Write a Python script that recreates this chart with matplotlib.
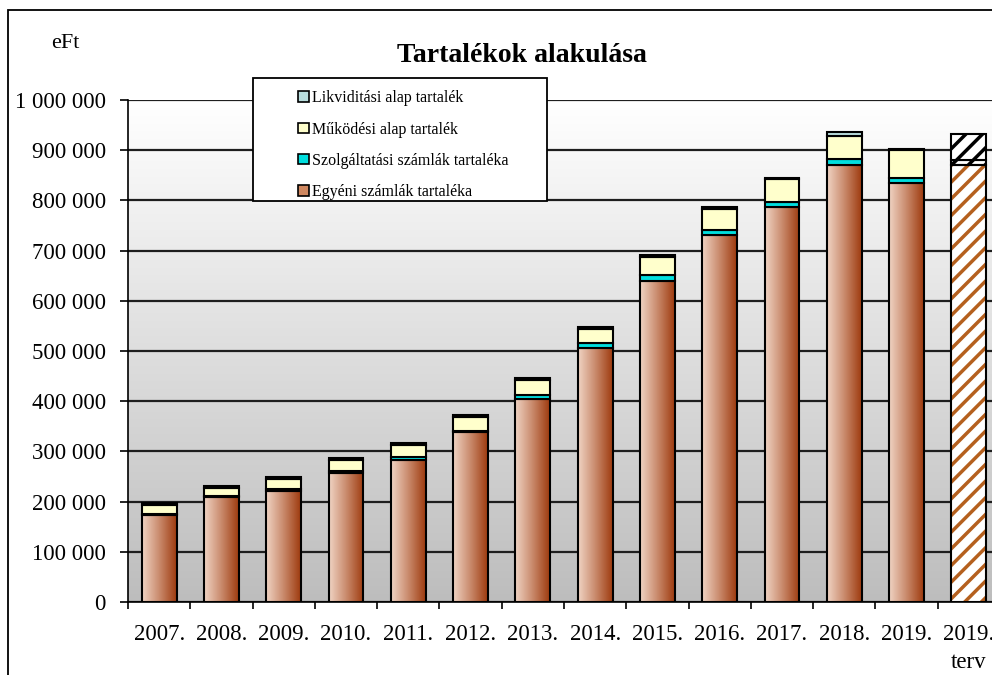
import numpy as np
import matplotlib
matplotlib.use("Agg")
import matplotlib.pyplot as plt
from matplotlib.colors import LinearSegmentedColormap
from matplotlib.patches import Rectangle, Patch
from matplotlib.ticker import FuncFormatter, FixedLocator

plt.rcParams["font.family"] = ["Liberation Serif", "DejaVu Serif"]
plt.rcParams["hatch.linewidth"] = 2.5

# Data (eFt, thousands)
years = ["2007.", "2008.", "2009.", "2010.", "2011.", "2012.", "2013.",
         "2014.", "2015.", "2016.", "2017.", "2018.", "2019.", "2019.\nterv"]
egyeni = [173, 209, 221, 256, 282, 338, 405, 506, 640, 732, 786, 870, 834, 870]
szolg = [2, 2, 4, 5, 6, 3, 7, 9, 11, 10, 11, 12, 11, 10]
mukodesi = [19, 16, 20, 22, 24, 27, 31, 29, 37, 41, 45, 47, 55, 48]
likvid = [4, 4, 4, 4, 4, 4, 4, 4, 4, 3, 3, 7, 3, 4]

labels = ["Likviditási alap tartalék", "Működési alap tartalék",
          "Szolgáltatási számlák tartaléka", "Egyéni számlák tartaléka"]

c_eg_light, c_eg_dark = "#f0d4c4", "#9e3a0e"
c_szolg = "#00dede"
c_muk = "#ffffcc"
c_likv = "#b8dcdc"

eg = np.array(egyeni) * 1000
sz = np.array(szolg) * 1000
mk = np.array(mukodesi) * 1000
lk = np.array(likvid) * 1000
x = np.arange(len(years))
n_real = len(years) - 1
w = 0.56

fig = plt.figure(figsize=(9.92, 6.75), dpi=100)
ax = fig.add_axes([128 / 992, 1 - 602 / 675, 872 / 992, 502 / 675])

# plot area background gradient
bg = np.linspace(1, 0, 256).reshape(-1, 1)
bg_cmap = LinearSegmentedColormap.from_list("bg", ["#bdbdbd", "#ffffff"])
ax.imshow(bg, cmap=bg_cmap, extent=(-0.5, len(years) - 0.5, 0, 1e6),
          aspect="auto", zorder=0, origin="upper", vmin=0, vmax=1)

edge = dict(edgecolor="black", linewidth=1.5)

# Egyéni számlák (gradient)
xr = x[:n_real]
bars_eg = ax.bar(xr, eg[:n_real], w, facecolor="none", zorder=3, **edge)
grad = np.linspace(0, 1, 256).reshape(1, -1)
eg_cmap = LinearSegmentedColormap.from_list("eg", [c_eg_light, "#c98a6c", c_eg_dark])
for r in bars_eg:
    ax.imshow(grad, cmap=eg_cmap, extent=(r.get_x(), r.get_x() + r.get_width(), 0, r.get_height()),
              aspect="auto", zorder=2)

b1 = eg[:n_real]
ax.bar(xr, sz[:n_real], w, bottom=b1, color=c_szolg, zorder=3, **edge)
b2 = b1 + sz[:n_real]
ax.bar(xr, mk[:n_real], w, bottom=b2, color=c_muk, zorder=3, **edge)
b3 = b2 + mk[:n_real]
ax.bar(xr, lk[:n_real], w, bottom=b3, color=c_likv, zorder=3, **edge)

# terv bar (hatched)
t = len(years) - 1
ax.bar(x[t], eg[t], w, facecolor="white", edgecolor="#b5601e", hatch="//", linewidth=0, zorder=3)
ax.bar(x[t], eg[t], w, facecolor="none", zorder=4, **edge)
tb = eg[t]
for val in (sz[t], mk[t] + lk[t]):
    ax.bar(x[t], val, w, bottom=tb, facecolor="white", edgecolor="black", hatch="//",
           linewidth=1.5, zorder=3)
    tb += val

ax.set_xlim(-0.5, len(years) - 0.5)
ax.set_ylim(0, 1e6)
ax.set_yticks(np.arange(0, 1000001, 100000))
ax.yaxis.set_major_formatter(FuncFormatter(lambda v, p: f"{int(v):,}".replace(",", " ")))
ax.set_xticks(x)
ax.set_xticklabels(years, fontsize=16.5, linespacing=1.4)
ax.xaxis.set_minor_locator(FixedLocator(np.arange(-0.5, len(years), 1)))
ax.tick_params(axis="x", which="major", length=0, pad=16)
ax.tick_params(axis="x", which="minor", length=5, width=1.2, direction="out")
ax.tick_params(axis="y", length=6, width=1.2, labelsize=16.5, pad=10)
ax.yaxis.grid(True, color="#1e1e1e", linewidth=1.6)
ax.set_axisbelow(True)
for s in ("top", "right"):
    ax.spines[s].set_visible(False)
for s in ("left", "bottom"):
    ax.spines[s].set_linewidth(1.2)

fig.text(522 / 992, 1 - 56 / 675, "Tartalékok alakulása", ha="center", va="center",
         fontsize=20, fontweight="bold")
fig.text(65 / 992, 1 - 43 / 675, "eFt", ha="center", va="center", fontsize=16)

# legend box
fig.patches.append(Rectangle((253 / 992, 1 - 201 / 675), 294 / 992, 123 / 675,
                             transform=fig.transFigure, facecolor="white",
                             edgecolor="black", linewidth=1.3, zorder=5))
handles = [Patch(facecolor=c, edgecolor="black", linewidth=1.2)
           for c in (c_likv, c_muk, c_szolg, "#d08860")]
leg = fig.legend(handles, labels, loc="upper left", bbox_to_anchor=(284 / 992, 1 - 76 / 675),
                 frameon=False, fontsize=11.5, handlelength=0.65, handleheight=0.65,
                 handletextpad=0.2, labelspacing=0.95)
leg.set_zorder(6)

# outer border
fig.patches.append(Rectangle((8 / 992, -0.02), 1.0, 1 - 10 / 675 + 0.02,
                             transform=fig.transFigure, facecolor="none",
                             edgecolor="black", linewidth=1.3, zorder=7))

fig.savefig("out.png", dpi=100)
